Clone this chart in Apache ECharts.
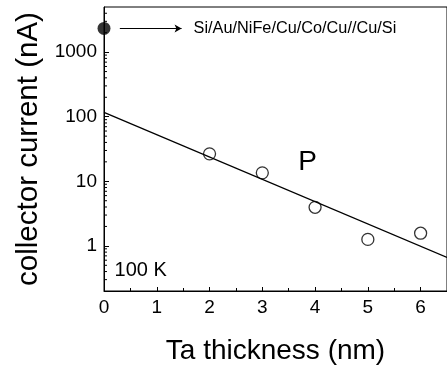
<!DOCTYPE html>
<html>
<head>
<meta charset="utf-8">
<style>
  html, body { margin: 0; padding: 0; background: #fff; }
  #chart { width: 447px; height: 372px; }
</style>
<script src="https://cdn.jsdelivr.net/npm/echarts@6/dist/echarts.min.js"></script>
</head>
<body>
<div id="chart"></div>
<script>
// Collector current vs Ta thickness (P configuration, 100 K)
const thickness = [2, 3, 4, 5, 6];
const current = [26.6, 13.5, 3.95, 1.26, 1.57];

// reference structure without Ta
const refThickness = [0];
const refCurrent = [2330];

// exponential fit (straight on log scale)
const fitThickness = [0, 6.5];
const fitCurrent = [117, 0.66];

const xTicks = [0, 1, 2, 3, 4, 5, 6];
const yTickLabels = [1, 10, 100, 1000];
const minorMultiples = [2, 3, 4, 5, 6, 7, 8, 9];
const decades = [0.1, 1, 10, 100, 1000];

const FONT = '"Liberation Sans", Arial, Helvetica, sans-serif';
const Y_MIN = 0.2, Y_MAX = 5000, X_MIN = 0, X_MAX = 6.5;

// minor tick values of the logarithmic axis (2..9 in every decade)
const minorTickValues = [];
decades.forEach(d => minorMultiples.forEach(m => {
  const v = +(d * m).toPrecision(3);
  if (v > Y_MIN && v < Y_MAX) minorTickValues.push(v);
}));

const chart = echarts.init(document.getElementById('chart'), null, { renderer: 'canvas' });

const option = {
  animation: false,
  backgroundColor: '#fff',
  grid: {
    left: 104, top: 7, right: -6, bottom: 81,
    show: true, borderColor: '#000', borderWidth: 1, backgroundColor: 'transparent'
  },
  xAxis: {
    type: 'value', min: X_MIN, max: X_MAX, interval: 1,
    name: 'Ta thickness (nm)', nameLocation: 'middle', nameGap: 46,
    nameTextStyle: { fontFamily: FONT, fontSize: 28, color: '#000' },
    axisLine: { show: true, lineStyle: { color: '#000', width: 1 } },
    axisTick: { show: true, inside: true, length: 4, lineStyle: { color: '#000' } },
    minorTick: { show: true, splitNumber: 2, length: 3, lineStyle: { color: '#000' } },
    splitLine: { show: false },
    axisLabel: {
      fontFamily: FONT, fontSize: 19, color: '#000', margin: 7,
      showMaxLabel: false,
      formatter: v => (xTicks.indexOf(v) >= 0 ? String(v) : '')
    }
  },
  yAxis: {
    type: 'log', logBase: 10, min: Y_MIN, max: Y_MAX,
    name: 'collector current (nA)', nameLocation: 'middle', nameGap: 60,
    nameTextStyle: { fontFamily: FONT, fontSize: 29.5, color: '#000' },
    axisLine: { show: true, lineStyle: { color: '#000', width: 1 } },
    axisTick: { show: true, inside: true, length: 5, lineStyle: { color: '#000' } },
    splitLine: { show: false },
    axisLabel: {
      fontFamily: FONT, fontSize: 19, color: '#000', margin: 7,
      showMinLabel: false, showMaxLabel: false,
      formatter: v => {
        const r = Math.round(v);
        return yTickLabels.indexOf(r) >= 0 && Math.abs(v - r) < 1e-6 ? String(r) : '';
      }
    }
  },
  series: [
    {
      // short inward minor ticks on the log axis
      type: 'custom',
      silent: true,
      clip: false,
      data: minorTickValues.map(v => [X_MIN, v]),
      renderItem: (params, api) => {
        const p = api.coord([api.value(0), api.value(1)]);
        return {
          type: 'line',
          shape: { x1: p[0], y1: p[1], x2: p[0] + 3, y2: p[1] },
          style: { stroke: '#000', lineWidth: 1 }
        };
      },
      z: 1
    },
    {
      name: 'fit',
      type: 'line',
      data: fitThickness.map((x, i) => [x, fitCurrent[i]]),
      showSymbol: false,
      symbol: 'none',
      lineStyle: { color: '#000', width: 1.3 },
      clip: true,
      z: 2
    },
    {
      name: 'P',
      type: 'scatter',
      data: thickness.map((x, i) => [x, current[i]]),
      symbol: 'circle',
      symbolSize: 12,
      itemStyle: { color: 'rgba(0,0,0,0)', borderColor: '#000', borderWidth: 1.3 },
      z: 3
    },
    {
      name: 'reference',
      type: 'scatter',
      data: refThickness.map((x, i) => [x, refCurrent[i]]),
      symbol: 'circle',
      symbolSize: 13,
      itemStyle: { color: '#000' },
      clip: false,
      z: 4,
      markLine: {
        silent: true,
        symbol: ['none', 'arrow'],
        symbolSize: [6, 7],
        lineStyle: { color: '#000', width: 1, type: 'solid' },
        label: {
          show: true, position: 'end', distance: 12,
          formatter: 'Si/Au/NiFe/Cu/Co/Cu//Cu/Si',
          fontFamily: FONT, fontSize: 16.3, color: '#000'
        },
        data: [[{ coord: [0.3, refCurrent[0]] }, { coord: [1.47, refCurrent[0]] }]]
      }
    }
  ]
};

chart.setOption(option);

// text annotations placed in data coordinates
const pPos = chart.convertToPixel({ gridIndex: 0 }, [3.86, 20]);
const kPos = chart.convertToPixel({ gridIndex: 0 }, [0.2, 0.42]);
chart.setOption({
  graphic: [
    {
      type: 'text', x: pPos[0], y: pPos[1],
      style: { text: 'P', font: '28px ' + FONT, fill: '#000', align: 'center', verticalAlign: 'middle' }
    },
    {
      type: 'text', x: kPos[0], y: kPos[1],
      style: { text: '100 K', font: '20px ' + FONT, fill: '#000', align: 'left', verticalAlign: 'middle' }
    }
  ]
});
</script>
</body>
</html>
